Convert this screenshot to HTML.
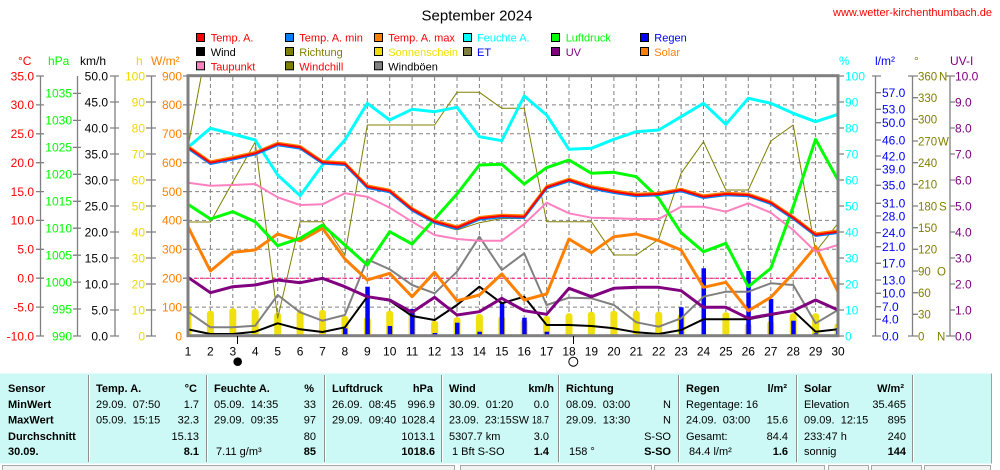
<!DOCTYPE html>
<html><head><meta charset="utf-8">
<style>
html,body{margin:0;padding:0;background:#fff;overflow:hidden;}
svg{display:block;}
text{font-family:"Liberation Sans",sans-serif;}
</style></head>
<body>
<svg width="1000" height="470" viewBox="0 0 1000 470" xmlns="http://www.w3.org/2000/svg">
<defs>
<clipPath id="pc"><rect x="188" y="76" width="650" height="259.5"/></clipPath>
</defs>

<!-- Title & URL -->
<text x="477" y="20.5" font-size="15" text-anchor="middle" fill="#000">September 2024</text>
<text x="833" y="16" font-size="11" fill="#ff0000">www.wetter-kirchenthumbach.de</text>

<!-- Legend -->
<g font-size="11" stroke-width="1">
<rect x="196.5" y="33.5" width="8" height="8" fill="#ff0000" stroke="#000"/><text x="210.7" y="41.7" fill="#ff0000">Temp. A.</text>
<rect x="285.5" y="33.5" width="8" height="8" fill="#0080ff" stroke="#000"/><text x="299.3" y="41.7" fill="#ff0000">Temp. A. min</text>
<rect x="374.5" y="33.5" width="8" height="8" fill="#ff8000" stroke="#000"/><text x="388.3" y="41.7" fill="#ff0000">Temp. A. max</text>
<rect x="463.5" y="33.5" width="8" height="8" fill="#00ffff" stroke="#000"/><text x="477" y="41.7" fill="#00ffff">Feuchte A.</text>
<rect x="551.5" y="33.5" width="8" height="8" fill="#00ff00" stroke="#000"/><text x="565.7" y="41.7" fill="#00ff00">Luftdruck</text>
<rect x="640.5" y="33.5" width="8" height="8" fill="#0000ff" stroke="#000"/><text x="654.3" y="41.7" fill="#0000ff">Regen</text>

<rect x="196.5" y="47.5" width="8" height="8" fill="#000000" stroke="#000"/><text x="210.7" y="56" fill="#000">Wind</text>
<rect x="285.5" y="47.5" width="8" height="8" fill="#808000" stroke="#000"/><text x="299.3" y="56" fill="#808000">Richtung</text>
<rect x="374.5" y="47.5" width="8" height="8" fill="#f0e000" stroke="#000"/><text x="388.3" y="56" fill="#f0e000">Sonnenschein</text>
<rect x="463.5" y="47.5" width="8" height="8" fill="#808040" stroke="#000"/><text x="477" y="56" fill="#0000ff">ET</text>
<rect x="551.5" y="47.5" width="8" height="8" fill="#800080" stroke="#000"/><text x="565.7" y="56" fill="#800080">UV</text>
<rect x="640.5" y="47.5" width="8" height="8" fill="#ff8000" stroke="#000"/><text x="654.3" y="56" fill="#ff8000">Solar</text>

<rect x="196.5" y="61.8" width="8" height="8" fill="#ff80c0" stroke="#000"/><text x="210.7" y="70.3" fill="#ff0000">Taupunkt</text>
<rect x="285.5" y="61.8" width="8" height="8" fill="#808000" stroke="#000"/><text x="299.3" y="70.3" fill="#ff0000">Windchill</text>
<rect x="374.5" y="61.8" width="8" height="8" fill="#808080" stroke="#000"/><text x="388.3" y="70.3" fill="#000">Windböen</text>
</g>

<!-- Unit labels -->
<g font-size="12">
<text x="18" y="65" fill="#ff0000">°C</text>
<text x="48" y="65" fill="#00ff00">hPa</text>
<text x="80" y="65" fill="#000">km/h</text>
<text x="136" y="65" fill="#f0d800">h</text>
<text x="151" y="65" fill="#ff8000">W/m²</text>
<text x="839" y="65" fill="#00ffff">%</text>
<text x="875" y="65" fill="#0000ff">l/m²</text>
<text x="914" y="65" fill="#808000">°</text>
<text x="950" y="65" fill="#800080">UV-I</text>
</g>

<!-- Axes lines and ticks -->
<g stroke="#808080" stroke-width="1.3" fill="none">
<path d="M40.5 76V336 M36 76H44 M36 104.9H44 M36 133.8H44 M36 162.7H44 M36 191.6H44 M36 220.4H44 M36 249.3H44 M36 278.2H44 M36 307.1H44 M36 336H44"/>
<path d="M77.5 76V336 M73 93.4H81 M73 120.4H81 M73 147.4H81 M73 174.3H81 M73 201.3H81 M73 228.2H81 M73 255.2H81 M73 282.1H81 M73 309H81 M73 336H81"/>
<path d="M115 76V336 M110 76H119 M110 102H119 M110 128H119 M110 154H119 M110 180H119 M110 206H119 M110 232H119 M110 258H119 M110 284H119 M110 310H119 M110 336H119"/>
<path d="M151.5 76V336 M146 76H156 M146 102H156 M146 128H156 M146 154H156 M146 180H156 M146 206H156 M146 232H156 M146 258H156 M146 284H156 M146 310H156 M146 336H156"/>
<path d="M183 76H188 M183 104.9H187 M183 133.8H187 M183 162.7H187 M183 191.6H187 M183 220.4H187 M183 249.3H187 M183 278.2H187 M183 307.1H187"/>
<path d="M838 76H844 M838 102H844 M838 128H844 M838 154H844 M838 180H844 M838 206H844 M838 232H844 M838 258H844 M838 284H844 M838 310H844 M838 336H844"/>
<path d="M875.5 76V336 M872 76H881 M872 336H881 M876 92.7H881 M876 109.3H881 M876 122.7H881 M876 140H881 M876 156H881 M876 169.3H881 M876 185.3H881 M876 203.3H881 M876 216H881 M876 232.7H881 M876 246.7H881 M876 263.3H881 M876 280H881 M876 293.3H881 M876 306.7H881 M876 319.3H881"/>
<path d="M912.5 76V336 M908 76H918 M908 336H918 M913 97.7H918 M913 119.3H918 M913 141H918 M913 162.7H918 M913 184.3H918 M913 206H918 M913 227.7H918 M913 249.3H918 M913 271H918 M913 292.7H918 M913 314.3H918"/>
<path d="M950 76V336 M946 76H955 M946 336H955 M950 102H955 M950 128H955 M950 154H955 M950 180H955 M950 206H955 M950 232H955 M950 258H955 M950 284H955 M950 310H955"/>
</g>

<!-- Left axis labels -->
<g font-size="12" text-anchor="end">
<g fill="#ff0000">
<text x="34" y="80.3">35.0</text><text x="34" y="109.2">30.0</text><text x="34" y="138.1">25.0</text><text x="34" y="167">20.0</text><text x="34" y="195.9">15.0</text><text x="34" y="224.7">10.0</text><text x="34" y="253.6">5.0</text><text x="34" y="282.5">0.0</text><text x="34" y="311.4">-5.0</text><text x="34" y="340.3">-10.0</text>
</g>
<g fill="#00ff00">
<text x="72" y="97.7">1035</text><text x="72" y="124.7">1030</text><text x="72" y="151.7">1025</text><text x="72" y="178.6">1020</text><text x="72" y="205.6">1015</text><text x="72" y="232.5">1010</text><text x="72" y="259.5">1005</text><text x="72" y="286.4">1000</text><text x="72" y="313.3">995</text><text x="72" y="340.3">990</text>
</g>
<g fill="#000">
<text x="108" y="80.3">50.0</text><text x="108" y="106.3">45.0</text><text x="108" y="132.3">40.0</text><text x="108" y="158.3">35.0</text><text x="108" y="184.3">30.0</text><text x="108" y="210.3">25.0</text><text x="108" y="236.3">20.0</text><text x="108" y="262.3">15.0</text><text x="108" y="288.3">10.0</text><text x="108" y="314.3">5.0</text><text x="108" y="340.3">0.0</text>
</g>
<g fill="#f0d800">
<text x="145" y="80.3">100</text><text x="145" y="106.3">90</text><text x="145" y="132.3">80</text><text x="145" y="158.3">70</text><text x="145" y="184.3">60</text><text x="145" y="210.3">50</text><text x="145" y="236.3">40</text><text x="145" y="262.3">30</text><text x="145" y="288.3">20</text><text x="145" y="314.3">10</text><text x="145" y="340.3">0</text>
</g>
<g fill="#ff8000">
<text x="182" y="80.3">900</text><text x="182" y="109.2">800</text><text x="182" y="138.1">700</text><text x="182" y="167">600</text><text x="182" y="195.9">500</text><text x="182" y="224.7">400</text><text x="182" y="253.6">300</text><text x="182" y="282.5">200</text><text x="182" y="311.4">100</text><text x="182" y="340.3">0</text>
</g>
</g>

<!-- Right axis labels -->
<g font-size="12">
<g fill="#00ffff">
<text x="845" y="80.3">100</text><text x="845" y="106.3">90</text><text x="845" y="132.3">80</text><text x="845" y="158.3">70</text><text x="845" y="184.3">60</text><text x="845" y="210.3">50</text><text x="845" y="236.3">40</text><text x="845" y="262.3">30</text><text x="845" y="288.3">20</text><text x="845" y="314.3">10</text><text x="845" y="340.3">0</text>
</g>
<g fill="#0000ff">
<text x="882" y="97">57.0</text><text x="882" y="113.6">53.0</text><text x="882" y="127">50.0</text><text x="882" y="144.3">46.0</text><text x="882" y="160.3">42.0</text><text x="882" y="173.6">39.0</text><text x="882" y="189.6">35.0</text><text x="882" y="207.6">31.0</text><text x="882" y="220.3">28.0</text><text x="882" y="237">24.0</text><text x="882" y="251">21.0</text><text x="882" y="267.6">17.0</text><text x="882" y="284.3">13.0</text><text x="882" y="297.6">10.0</text><text x="882" y="311">7.0</text><text x="882" y="323.6">4.0</text><text x="882" y="340.3">0.0</text>
</g>
<g fill="#808000" font-size="11.5">
<text x="918" y="80.3">360</text><text x="939" y="80.3">N</text>
<text x="918" y="102">330</text>
<text x="918" y="123.6">300</text>
<text x="918" y="145.3">270</text><text x="938" y="145.3">W</text>
<text x="918" y="167">240</text>
<text x="918" y="188.6">210</text>
<text x="918" y="210.3">180</text><text x="939" y="210.3">S</text>
<text x="918" y="232">150</text>
<text x="918" y="253.6">120</text>
<text x="918" y="275.3">90</text><text x="937" y="275.3">O</text>
<text x="918" y="297">60</text>
<text x="918" y="318.6">30</text>
<text x="918" y="340.3">0</text><text x="937" y="340.3">N</text>
</g>
<g fill="#800080">
<text x="955" y="80.3">10.0</text><text x="955" y="106.3">9.0</text><text x="955" y="132.3">8.0</text><text x="955" y="158.3">7.0</text><text x="955" y="184.3">6.0</text><text x="955" y="210.3">5.0</text><text x="955" y="236.3">4.0</text><text x="955" y="262.3">3.0</text><text x="955" y="288.3">2.0</text><text x="955" y="314.3">1.0</text><text x="955" y="340.3">0.0</text>
</g>
</g>

<!-- Grid -->
<g stroke="#808080" stroke-width="1" stroke-dasharray="4,3" fill="none">
<path d="M188 104.9H838 M188 133.8H838 M188 162.7H838 M188 191.6H838 M188 220.4H838 M188 249.3H838 M188 278.2H838 M188 307.1H838"/>
<path d="M210.4 77V335 M232.8 77V335 M255.2 77V335 M277.7 77V335 M300.1 77V335 M322.5 77V335 M344.9 77V335 M367.3 77V335 M389.7 77V335 M412.1 77V335 M434.6 77V335 M457 77V335 M479.4 77V335 M501.8 77V335 M524.2 77V335 M546.6 77V335 M569 77V335 M591.4 77V335 M613.9 77V335 M636.3 77V335 M658.7 77V335 M681.1 77V335 M703.5 77V335 M725.9 77V335 M748.3 77V335 M770.8 77V335 M793.2 77V335 M815.6 77V335"/>
</g>
<path d="M188 278.2H838" stroke="#ff0080" stroke-width="1" stroke-dasharray="3,3"/>

<g clip-path="url(#pc)">
<!-- Sunshine bars -->
<g fill="#f0e010">
<rect x="184.5" y="307.3" width="7" height="35" rx="3"/>
<rect x="206.9" y="310.7" width="7" height="30" rx="3"/>
<rect x="229.3" y="308.3" width="7" height="32" rx="3"/>
<rect x="251.7" y="309" width="7" height="31" rx="3"/>
<rect x="274.2" y="312.7" width="7" height="28" rx="3"/>
<rect x="296.6" y="310.7" width="7" height="30" rx="3"/>
<rect x="319" y="310" width="7" height="30" rx="3"/>
<rect x="341.4" y="316" width="7" height="24" rx="3"/>
<rect x="363.8" y="317.3" width="7" height="23" rx="3"/>
<rect x="386.2" y="310.7" width="7" height="30" rx="3"/>
<rect x="408.6" y="311" width="7" height="30" rx="3"/>
<rect x="431.1" y="320.7" width="7" height="20" rx="3"/>
<rect x="453.5" y="317.3" width="7" height="23" rx="3"/>
<rect x="475.9" y="314" width="7" height="26" rx="3"/>
<rect x="498.3" y="316" width="7" height="24" rx="3"/>
<rect x="520.7" y="319.3" width="7" height="21" rx="3"/>
<rect x="543.1" y="316" width="7" height="24" rx="3"/>
<rect x="565.5" y="313.3" width="7" height="27" rx="3"/>
<rect x="587.9" y="311.7" width="7" height="29" rx="3"/>
<rect x="610.4" y="310.7" width="7" height="30" rx="3"/>
<rect x="632.8" y="310.7" width="7" height="30" rx="3"/>
<rect x="655.2" y="311.7" width="7" height="29" rx="3"/>
<rect x="677.6" y="314" width="7" height="26" rx="3"/>
<rect x="700" y="333" width="7" height="7" rx="3"/>
<rect x="722.4" y="312.3" width="7" height="28" rx="3"/>
<rect x="744.8" y="323.3" width="7" height="17" rx="3"/>
<rect x="767.3" y="320.7" width="7" height="20" rx="3"/>
<rect x="789.7" y="313.3" width="7" height="27" rx="3"/>
<rect x="812.1" y="313.3" width="7" height="27" rx="3"/>
<rect x="834.5" y="323.3" width="7" height="17" rx="3"/>
</g>
<!-- Rain bars -->
<g fill="#0000ff">
<rect x="342.9" y="328.3" width="4.5" height="8"/>
<rect x="365.3" y="286.7" width="4.5" height="50"/>
<rect x="387.7" y="326" width="4.5" height="10"/>
<rect x="410.1" y="309" width="4.5" height="27"/>
<rect x="432.6" y="333" width="4.5" height="3"/>
<rect x="455" y="322.7" width="4.5" height="14"/>
<rect x="477.4" y="331.7" width="4.5" height="5"/>
<rect x="499.8" y="303.3" width="4.5" height="33"/>
<rect x="522.2" y="317.7" width="4.5" height="19"/>
<rect x="544.6" y="331.7" width="4.5" height="5"/>
<rect x="679.1" y="307.3" width="4.5" height="29"/>
<rect x="701.5" y="268.3" width="4.5" height="68"/>
<rect x="746.3" y="271" width="4.5" height="65"/>
<rect x="768.8" y="299" width="4.5" height="37"/>
<rect x="791.2" y="320.7" width="4.5" height="16"/>
<rect x="813.6" y="333.3" width="4.5" height="3"/>
<rect x="836" y="328" width="4.5" height="8"/>
</g>

<g fill="none" stroke-linejoin="round">
<polyline stroke="#808000" stroke-width="1" points="188,222 210.4,222 255.2,142 277.7,318.3 300.1,221.7 322.5,221.7 344.9,255 367.3,125 389.7,125 412.1,125 434.6,125 457,92.3 479.4,92.3 501.8,108.3 524.2,108.3 546.6,221.7 569,221.7 591.4,221.7 613.9,255 636.3,255 658.7,239.3 681.1,173.3 703.5,141.7 725.9,190 748.3,190 770.8,141 793.2,125 815.6,251.7 838,223.3"/>
<polyline stroke="#808000" stroke-width="1" points="188,147 210.4,27"/>
<polyline stroke="#808000" stroke-width="1" points="434.6,223.5 457,230 479.4,222.7 501.8,218.5 524.2,218.5"/>
<polyline stroke="#808080" stroke-width="2" points="188,311.7 210.4,327.3 232.8,327.3 255.2,325.7 277.7,295 300.1,312.3 322.5,320.7 344.9,315 367.3,259.3 389.7,269.3 412.1,285 434.6,293.3 457,271.7 479.4,236.7 501.8,270 524.2,253.3 546.6,305 569,297.7 591.4,298.3 613.9,305 636.3,322.3 658.7,326.7 681.1,318.3 703.5,296.7 725.9,291.7 748.3,291.7 770.8,283.3 793.2,285 815.6,323.3 838,310"/>
<polyline stroke="#000000" stroke-width="2" points="188,329.3 210.4,334 232.8,334 255.2,331.7 277.7,323.3 300.1,329.3 322.5,332 344.9,327.3 367.3,296.7 389.7,300.7 412.1,316 434.6,320 457,305 479.4,286.7 501.8,303.3 524.2,296.7 546.6,325 569,325 591.4,326 613.9,328.3 636.3,332.3 658.7,334 681.1,330 703.5,319.3 725.9,319.3 748.3,319.3 770.8,315 793.2,310.7 815.6,331.7 838,329.3"/>
<polyline stroke="#800080" stroke-width="3" points="188,277.3 210.4,292.7 232.8,286.7 255.2,285 277.7,280 300.1,282.7 322.5,278.3 344.9,286.7 367.3,296.7 389.7,300 412.1,312.3 434.6,297.3 457,315 479.4,311.7 501.8,298.3 524.2,310.7 546.6,314.3 569,288.3 591.4,296.7 613.9,288.3 636.3,287.3 658.7,287.3 681.1,290.7 703.5,307.3 725.9,307.3 748.3,318.3 770.8,314.3 793.2,310.7 815.6,300 838,310"/>
<polyline stroke="#ff8000" stroke-width="3" points="188,226.7 210.4,271 232.8,252.3 255.2,250 277.7,234 300.1,241 322.5,228.3 344.9,259 367.3,280 389.7,273.3 412.1,296.7 434.6,272.3 457,300.7 479.4,295 501.8,274 524.2,300 546.6,294 569,239 591.4,252.7 613.9,236.7 636.3,234 658.7,240.7 681.1,250 703.5,287.3 725.9,282.3 748.3,310.7 770.8,297.3 793.2,273.3 815.6,246.7 838,291.7"/>
<polyline stroke="#ff80c0" stroke-width="2" points="188,182.7 210.4,185.7 232.8,185 255.2,184 277.7,197.3 300.1,205 322.5,204.3 344.9,193.3 367.3,196.7 389.7,207.7 412.1,221.7 434.6,235 457,239 479.4,240.7 501.8,240.7 524.2,224 546.6,202.7 569,213.3 591.4,217.7 613.9,218.3 636.3,219 658.7,219 681.1,206.7 703.5,206.7 725.9,211.7 748.3,203.3 770.8,212.7 793.2,230 815.6,251.7 838,245"/>
<polyline stroke="#00ff00" stroke-width="3" points="188,204.3 210.4,219 232.8,211.7 255.2,221.7 277.7,245.7 300.1,238.3 322.5,225 344.9,245 367.3,265 389.7,231.7 412.1,244 434.6,219 457,194 479.4,165 501.8,164.3 524.2,184 546.6,167.7 569,160 591.4,173.3 613.9,172.3 636.3,176.7 658.7,198.3 681.1,232.7 703.5,251.7 725.9,243.3 748.3,286.7 770.8,268.3 793.2,206.7 815.6,139.3 838,180"/>
<polyline stroke="#00ffff" stroke-width="3" points="188,147.3 210.4,128.3 232.8,134 255.2,140 277.7,175 300.1,195.7 322.5,165 344.9,140 367.3,103.3 389.7,120 412.1,109.3 434.6,111.7 457,107.3 479.4,136.7 501.8,140.7 524.2,96 546.6,115 569,149.3 591.4,148.3 613.9,139.3 636.3,131.7 658.7,130 681.1,116.7 703.5,103.3 725.9,124.3 748.3,98.3 770.8,103.3 793.2,113.3 815.6,121.7 838,114.3"/>
<polyline stroke="#ff8000" stroke-width="2" transform="translate(0,-1.3)" points="188,147.3 210.4,162.7 232.8,158.3 255.2,153.3 277.7,144 300.1,147.3 322.5,162.3 344.9,163.7 367.3,186.7 389.7,191 412.1,209.3 434.6,221.7 457,227.7 479.4,218.3 501.8,216 524.2,216.7 546.6,187.3 569,180 591.4,187.3 613.9,191.7 636.3,195 658.7,194 681.1,190 703.5,196.7 725.9,194 748.3,195 770.8,202.7 793.2,217.7 815.6,234.7 838,231.7"/>
<polyline stroke="#0080ff" stroke-width="2" transform="translate(0,1.3)" points="188,147.3 210.4,162.7 232.8,158.3 255.2,153.3 277.7,144 300.1,147.3 322.5,162.3 344.9,163.7 367.3,186.7 389.7,191 412.1,209.3 434.6,221.7 457,227.7 479.4,218.3 501.8,216 524.2,216.7 546.6,187.3 569,180 591.4,187.3 613.9,191.7 636.3,195 658.7,194 681.1,190 703.5,196.7 725.9,194 748.3,195 770.8,202.7 793.2,217.7 815.6,234.7 838,231.7"/>
<polyline stroke="#ff0000" stroke-width="2" points="188,147.3 210.4,162.7 232.8,158.3 255.2,153.3 277.7,144 300.1,147.3 322.5,162.3 344.9,163.7 367.3,186.7 389.7,191 412.1,209.3 434.6,221.7 457,227.7 479.4,218.3 501.8,216 524.2,216.7 546.6,187.3 569,180 591.4,187.3 613.9,191.7 636.3,195 658.7,194 681.1,190 703.5,196.7 725.9,194 748.3,195 770.8,202.7 793.2,217.7 815.6,234.7 838,231.7"/>
</g>
</g>

<!-- Plot border -->
<rect x="188" y="75.7" width="650" height="260" fill="none" stroke="#808080" stroke-width="3"/>

<!-- Day labels -->
<g font-size="12" text-anchor="middle" fill="#000">
<text x="188" y="355.5">1</text><text x="210.4" y="355.5">2</text><text x="232.8" y="355.5">3</text><text x="255.2" y="355.5">4</text><text x="277.7" y="355.5">5</text><text x="300.1" y="355.5">6</text><text x="322.5" y="355.5">7</text><text x="344.9" y="355.5">8</text><text x="367.3" y="355.5">9</text><text x="389.7" y="355.5">10</text><text x="412.1" y="355.5">11</text><text x="434.6" y="355.5">12</text><text x="457" y="355.5">13</text><text x="479.4" y="355.5">14</text><text x="501.8" y="355.5">15</text><text x="524.2" y="355.5">16</text><text x="546.6" y="355.5">17</text><text x="569" y="355.5">18</text><text x="591.4" y="355.5">19</text><text x="613.9" y="355.5">20</text><text x="636.3" y="355.5">21</text><text x="658.7" y="355.5">22</text><text x="681.1" y="355.5">23</text><text x="703.5" y="355.5">24</text><text x="725.9" y="355.5">25</text><text x="748.3" y="355.5">26</text><text x="770.8" y="355.5">27</text><text x="793.2" y="355.5">28</text><text x="815.6" y="355.5">29</text><text x="838" y="355.5">30</text>
</g>
<path d="M237.5 336V344 M573.5 336V344" stroke="#000" stroke-width="1"/>
<circle cx="237.7" cy="361.7" r="4.3" fill="#000"/>
<circle cx="573.3" cy="361.7" r="4.5" fill="#fff" stroke="#000" stroke-width="1"/>

<!-- Table -->
<rect x="0" y="373.5" width="991" height="90" fill="#ccf9f5"/>
<path d="M991.5 373.5V463.5" stroke="#a0a0a0" stroke-width="1"/>
<g stroke-width="1">
<path d="M88.5 375V462 M206.5 375V462 M324.5 375V462 M441.5 375V462 M558.5 375V462 M678.5 375V462 M796.5 375V462 M912.5 375V462" stroke="#909090"/>
<path d="M89.5 375V462 M207.5 375V462 M325.5 375V462 M442.5 375V462 M559.5 375V462 M679.5 375V462 M797.5 375V462 M913.5 375V462" stroke="#ffffff"/>
</g>
<g fill="#f2f2f2" stroke="#a8a8a8" stroke-width="1">
<rect x="2.5" y="465.5" width="452" height="10"/>
<rect x="460.5" y="465.5" width="191" height="10"/>
<rect x="654.5" y="465.5" width="170" height="10"/>
<rect x="828.5" y="465.5" width="40" height="10"/>
<rect x="871.5" y="465.5" width="50" height="10"/>
<rect x="924.5" y="465.5" width="66" height="10"/>
</g>

<g font-size="11" fill="#000">
<g font-weight="bold">
<text x="8" y="392">Sensor</text>
<text x="8" y="408">MinWert</text>
<text x="8" y="423.5">MaxWert</text>
<text x="8" y="440">Durchschnitt</text>
<text x="8" y="455">30.09.</text>
</g>
<text x="96" y="392" font-weight="bold">Temp. A.</text>
<text x="197" y="392" font-weight="bold" text-anchor="end">°C</text>
<text x="96" y="408" style="white-space:pre">29.09.  07:50</text><text x="199" y="408" text-anchor="end">1.7</text>
<text x="96" y="423.5" style="white-space:pre">05.09.  15:15</text><text x="199" y="423.5" text-anchor="end">32.3</text>
<text x="199" y="440" text-anchor="end">15.13</text>
<text x="199" y="455" text-anchor="end" font-weight="bold">8.1</text>

<text x="214" y="392" font-weight="bold">Feuchte A.</text>
<text x="314" y="392" font-weight="bold" text-anchor="end">%</text>
<text x="214" y="408" style="white-space:pre">05.09.  14:35</text><text x="316" y="408" text-anchor="end">33</text>
<text x="214" y="423.5" style="white-space:pre">29.09.  09:35</text><text x="316" y="423.5" text-anchor="end">97</text>
<text x="316" y="440" text-anchor="end">80</text>
<text x="216" y="455">7.11 g/m³</text><text x="316" y="455" text-anchor="end" font-weight="bold">85</text>

<text x="332" y="392" font-weight="bold">Luftdruck</text>
<text x="433" y="392" font-weight="bold" text-anchor="end">hPa</text>
<text x="332" y="408" style="white-space:pre">26.09.  08:45</text><text x="435" y="408" text-anchor="end">996.9</text>
<text x="332" y="423.5" style="white-space:pre">29.09.  09:40</text><text x="435" y="423.5" text-anchor="end">1028.4</text>
<text x="435" y="440" text-anchor="end">1013.1</text>
<text x="435" y="455" text-anchor="end" font-weight="bold">1018.6</text>

<text x="449" y="392" font-weight="bold">Wind</text>
<text x="554" y="392" font-weight="bold" text-anchor="end">km/h</text>
<text x="449" y="408" style="white-space:pre">30.09.  01:20</text><text x="549" y="408" text-anchor="end">0.0</text>
<text x="449" y="423.5" style="white-space:pre" textLength="80" lengthAdjust="spacingAndGlyphs">23.09.  23:15SW</text><text x="532" y="423.5" textLength="17" lengthAdjust="spacingAndGlyphs">18.7</text>
<text x="449" y="440">5307.7 km</text><text x="549" y="440" text-anchor="end">3.0</text>
<text x="452" y="455">1 Bft S-SO</text><text x="549" y="455" text-anchor="end" font-weight="bold">1.4</text>

<text x="566" y="392" font-weight="bold">Richtung</text>
<text x="566" y="408" style="white-space:pre">08.09.  03:00</text><text x="671" y="408" text-anchor="end">N</text>
<text x="566" y="423.5" style="white-space:pre">29.09.  13:30</text><text x="671" y="423.5" text-anchor="end">N</text>
<text x="671" y="440" text-anchor="end">S-SO</text>
<text x="569" y="455">158 °</text><text x="671" y="455" text-anchor="end" font-weight="bold">S-SO</text>

<text x="686" y="392" font-weight="bold">Regen</text>
<text x="787" y="392" font-weight="bold" text-anchor="end">l/m²</text>
<text x="686" y="408">Regentage: 16</text>
<text x="686" y="423.5" style="white-space:pre">24.09.  03:00</text><text x="788" y="423.5" text-anchor="end">15.6</text>
<text x="686" y="440">Gesamt:</text><text x="788" y="440" text-anchor="end">84.4</text>
<text x="689" y="455">84.4 l/m²</text><text x="788" y="455" text-anchor="end" font-weight="bold">1.6</text>

<text x="804" y="392" font-weight="bold">Solar</text>
<text x="904" y="392" font-weight="bold" text-anchor="end">W/m²</text>
<text x="804" y="408">Elevation</text><text x="906" y="408" text-anchor="end">35.465</text>
<text x="804" y="423.5" style="white-space:pre">09.09.  12:15</text><text x="906" y="423.5" text-anchor="end">895</text>
<text x="804" y="440">233:47 h</text><text x="906" y="440" text-anchor="end">240</text>
<text x="804" y="455">sonnig</text><text x="906" y="455" text-anchor="end" font-weight="bold">144</text>
</g>
</svg>
</body></html>
